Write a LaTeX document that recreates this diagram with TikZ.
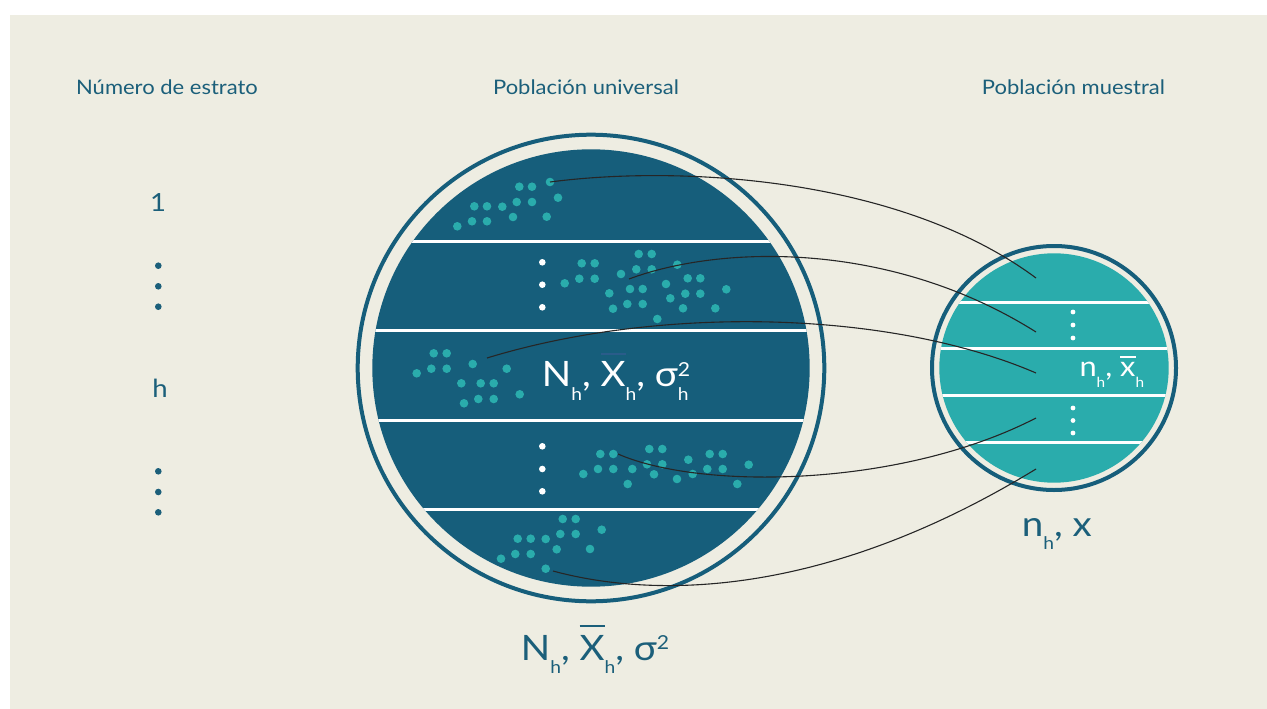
\documentclass[tikz,border=0pt]{standalone}
\usepackage{fontspec}
\setmainfont{Lato}[FakeStretch=1.1]
\usepackage{graphicx}
\definecolor{bgc}{HTML}{EEEDE2}
\definecolor{deep}{HTML}{165E7B}
\definecolor{tealc}{HTML}{2AACAC}
\definecolor{txt}{HTML}{1B5F7A}
\definecolor{bardim}{HTML}{2A5C8A}
\newcommand\lsub[1]{\raisebox{-0.39em}{\scalebox{0.5}{#1}}}
\newcommand\lsup[2]{\raisebox{#1}{\scalebox{0.55}{#2}}}
\newcommand\obar[4]{\leavevmode\setbox0\hbox{#4}\rlap{\textcolor{#1}{\raisebox{#2}{\rule{\wd0}{#3}}}}\box0}
\tikzset{
  hdr/.style={font=\fontsize{20}{24}\selectfont, text=txt, inner sep=0, anchor=base},
  num/.style={font=\fontsize{25}{30}\selectfont, text=txt, inner sep=0, anchor=base},
  big/.style={font=\fontsize{35}{40}\selectfont, inner sep=0, anchor=base west},
  conn/.style={draw=black!85, line width=1.1pt},
  stripe/.style={draw=white, line width=3pt},
}
\begin{document}
\begin{tikzpicture}[x=1pt,y=-1pt]
\useasboundingbox (0,0) rectangle (1267,709);
\fill[white] (0,0) rectangle (1267,709);
\fill[bgc] (10,15) rectangle (1267,709);

% headers
\node[hdr] (h1) at (167,95) {Número de estrato};
\node[hdr] (h2) at (586,95) {Población universal};
\node[hdr] (h3) at (1073.5,95) {Población muestral};

% left column
\node[num] (n1) at (158,211) {1};
\node[num] (nh) at (160,397) {h};
\foreach \yy in {265.7,286.3,306.7,471.3,492,512.3}
  \fill[txt] (158.3,\yy) circle[radius=3.3];

% big circle
\draw[deep, line width=4pt] (591,368) circle[radius=233.3];
\node[circle, fill=deep, minimum size=437.4pt, inner sep=0] (bigdisk) at (591,368) {};
\begin{scope}
  \clip (591,368) circle[radius=218.7];
  \foreach \yy in {241,330,420,509}
    \draw[stripe] (360,\yy) -- (830,\yy);
\end{scope}

% teal dots, stratum 1
\foreach \p in {(550,182),(519.3,186.7),(532,186.7),(558,197.7),(474.3,206.3),(487,206.3),(502.3,206.7),(516.7,202),(532,202),(457.3,226.3),(472,221.3),(487,221.3),(513,217),(546.7,216.7)}
  \fill[tealc] \p circle[radius=4.3];
% stratum 2
\foreach \p in {(581.7,263.3),(594.7,263.3),(638.7,254),(651.7,254),(564.7,283.3),(579.3,278.7),(594.7,278.7),(621,274),(636.3,269.3),(651.7,269.3),(677.3,264.7),(609.3,293.3),(630,289),(642.7,289),(666,284),(687.7,278.3),(700.3,278.3),(726.3,289.3),(613,308.7),(627.3,304),(642.7,304),(670.3,298.3),(685.3,293.7),(700.3,293.7),(683,308.3),(715.3,308.3),(657.3,319)}
  \fill[tealc] \p circle[radius=4.3];
% stratum h
\foreach \p in {(433.7,353.3),(446.7,353.3),(416.7,373.3),(431.3,368.7),(446.7,368.7),(472.7,364),(506.7,368.7),(461.3,383.3),(480.7,383.3),(493.7,383.3),(464,403.3),(478.3,399),(493.7,399),(519.7,394.3)}
  \fill[tealc] \p circle[radius=4.3];
% stratum 4
\foreach \p in {(600.3,454),(613.3,454),(649.3,449),(662.3,449),(583.3,474),(598,469),(613.3,469),(632.3,469),(647,464.3),(662.3,464.3),(654,474.3),(627.7,484),(677,479),(688.3,459.7),(692.7,474),(709.7,454),(722.7,454),(707.3,469),(722.7,469),(748.7,464.7),(737.3,484)}
  \fill[tealc] \p circle[radius=4.3];
% stratum 5
\foreach \p in {(562.7,519),(575.7,519),(517.7,538.7),(530.7,538.7),(545.7,539),(560.3,534),(575.7,534),(601.7,529.7),(501,558.7),(515.3,554),(530.7,554),(556.7,549.3),(590,549),(545.7,568.7)}
  \fill[tealc] \p circle[radius=4.3];
% white vertical dots
\foreach \yy in {262.3,284.7,307.3,446.3,469,491.3}
  \fill[white] (542.3,\yy) circle[radius=3.3];

\node[big, text=white] (lblmid) at (541.7,386.7)
  {N\lsub{h}, \obar{bardim}{0.9em}{0.06em}{X}\lsub{h}, σ\rlap{\lsup{0.29em}{2}}\lsub{h}};

% small circle
\draw[deep, line width=4pt] (1054,368) circle[radius=122];
\node[circle, fill=tealc, minimum size=229.4pt, inner sep=0] (smalldisk) at (1054,368) {};
\begin{scope}
  \clip (1054,368) circle[radius=114.7];
  \foreach \yy in {302,348,395,442}
    \draw[stripe] (930,\yy) -- (1180,\yy);
\end{scope}
\foreach \yy in {312,325,338,408,420.5,433}
  \fill[white] (1073,\yy) circle[radius=2.4];
\node[font=\fontsize{28}{32}\selectfont, inner sep=0, anchor=base west, text=white] (lblsmall) at (1079.3,376.7)
  {n\lsub{h}, \obar{white}{0.66em}{0.07em}{x}\lsub{h}};

% bottom labels
\node[big, text=txt] (lblbot) at (520.7,660)
  {N\lsub{h}, \obar{txt}{0.94em}{0.06em}{X}\lsub{h}, σ\lsup{0.31em}{2}};
\node[big, text=txt] (lblsm) at (1021.7,536) {n\lsub{h}, x};

% connectors
\coordinate (s1) at (550,182);   \coordinate (e1) at (1036,278);
\coordinate (s2) at (629,279);   \coordinate (e2) at (1036,332);
\coordinate (s3) at (487,358);   \coordinate (e3) at (1036,373);
\coordinate (s4) at (618,454);   \coordinate (e4) at (1036,418);
\coordinate (s5) at (553,571);   \coordinate (e5) at (1036,469);
\draw[conn] (s1) .. controls (680,165) and (900,177) .. (e1);
\draw[conn] (s2) .. controls (720,245) and (890,240) .. (e2);
\draw[conn] (s3) .. controls (660,305) and (890,310) .. (e3);
\draw[conn] (s4) .. controls (700,490) and (900,488) .. (e4);
\draw[conn] (s5) .. controls (660,600) and (830,595) .. (e5);
\end{tikzpicture}
\end{document}
